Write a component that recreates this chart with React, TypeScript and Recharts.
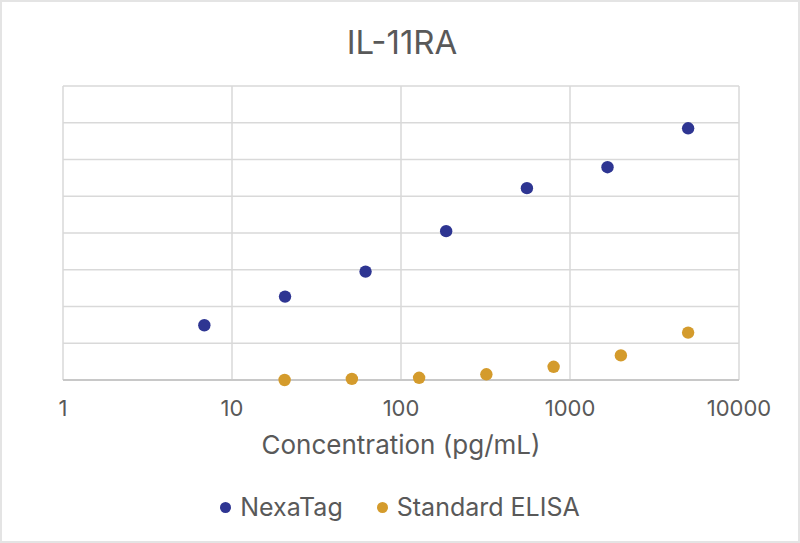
import React from 'react';
import { ScatterChart, Scatter, XAxis, YAxis, CartesianGrid, Legend } from 'recharts';

// concentrations (pg/mL) and normalized signal
const nexaConc = [6.86, 20.6, 61.7, 185, 556, 1667, 5000];
const nexaSignal = [1.49, 2.27, 2.95, 4.05, 5.22, 5.79, 6.85];
const elisaConc = [20.48, 51.2, 128, 320, 800, 2000, 5000];
const elisaSignal = [0.0, 0.03, 0.06, 0.155, 0.36, 0.67, 1.29];

const xTicks = [1, 10, 100, 1000, 10000];
const yTicks = [0, 1, 2, 3, 4, 5, 6, 7, 8];

const nexaData = nexaConc.map((x, i) => ({ x, y: nexaSignal[i] }));
const elisaData = elisaConc.map((x, i) => ({ x, y: elisaSignal[i] }));

const FONT = 'Inter, "Noto Sans", sans-serif';
const TEXT = '#595959';
const BLUE = '#2e3592';
const GOLD = '#d49b2c';

const Dot = (color: string) => (props: any) => (
  <circle cx={props.cx} cy={props.cy} r={6.2} fill={color} />
);

const XTitle = (props: any) => {
  const { x, y, width } = props.viewBox;
  return (
    <text x={x + width / 2} y={y + 74} textAnchor="middle" fill={TEXT} fontSize={26} fontFamily={FONT}>
      Concentration (pg/mL)
    </text>
  );
};

const YTitle = (props: any) => {
  const { x, y, height } = props.viewBox;
  const cx = x - 10;
  const cy = y + height / 2;
  return (
    <text
      x={cx}
      y={cy}
      transform={`rotate(-90 ${cx} ${cy})`}
      textAnchor="middle"
      fill={TEXT}
      fontSize={26}
      fontFamily={FONT}
    >
      Normalized Signal
    </text>
  );
};

const LegendContent = (props: any) => (
  <div style={{ display: 'flex', justifyContent: 'center', gap: 34, fontFamily: FONT, fontSize: 25, color: TEXT }}>
    {props.payload.map((p: any) => (
      <div key={p.value} style={{ display: 'flex', alignItems: 'center' }}>
        <span
          style={{ width: 11, height: 11, borderRadius: '50%', background: p.color, display: 'inline-block', marginRight: 9 }}
        />
        <span>{p.value}</span>
      </div>
    ))}
  </div>
);

// horizontal grid lines at every y tick, placed by the y axis scale
const hLines = (args: any) => {
  const s = args?.yAxis?.scale;
  if (!s) return [];
  const f = typeof s === 'function' ? s : s.map ? (v: number) => s.map(v) : null;
  return f ? yTicks.map((t) => f(t)) : [];
};

export default function App() {
  return (
    <div
      style={{
        position: 'fixed',
        top: 0,
        left: 0,
        width: 800,
        height: 543,
        boxSizing: 'border-box',
        border: '2px solid #e4e4e4',
        background: '#fff',
      }}
    >
      <div
        style={{
          position: 'absolute',
          top: 20,
          left: 0,
          width: 800,
          textAlign: 'center',
          fontFamily: FONT,
          fontSize: 33,
          color: TEXT,
          lineHeight: '40px',
        }}
      >
        IL-11RA
      </div>
      <div style={{ position: 'absolute', top: -2, left: -2 }}>
        <ScatterChart width={800} height={543} margin={{ top: 86, right: 61, bottom: 103, left: 63 }}>
          <CartesianGrid stroke="#d9d9d9" strokeWidth={1.5} horizontalCoordinatesGenerator={hLines} />
          <XAxis
            dataKey="x"
            type="number"
            scale="log"
            domain={[1, 10000]}
            ticks={xTicks}
            allowDataOverflow
            height={60}
            tickSize={0}
            tickMargin={20}
            tickLine={false}
            axisLine={{ stroke: '#c8c8c8', strokeWidth: 2 }}
            tick={{ fill: TEXT, fontSize: 22, fontFamily: FONT }}
            label={<XTitle />}
          />
          <YAxis
            dataKey="y"
            type="number"
            domain={[0, 8]}
            ticks={yTicks}
            width={0}
            tick={false}
            tickLine={false}
            axisLine={false}
            label={<YTitle />}
          />
          <Legend
            layout="horizontal"
            verticalAlign="middle"
            align="center"
            wrapperStyle={{ top: 492, left: 0, width: 800 }}
            content={<LegendContent />}
          />
          <Scatter name="NexaTag" data={nexaData} fill={BLUE} shape={Dot(BLUE)} isAnimationActive={false} />
          <Scatter name="Standard ELISA" data={elisaData} fill={GOLD} shape={Dot(GOLD)} isAnimationActive={false} />
        </ScatterChart>
      </div>
    </div>
  );
}
